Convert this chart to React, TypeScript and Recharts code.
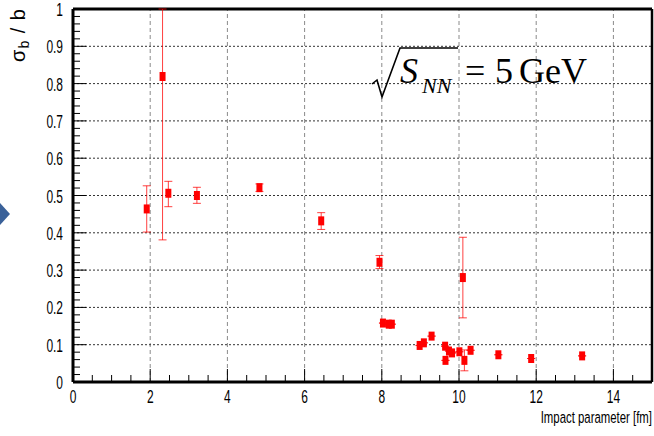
import React from 'react';
import {
  ScatterChart,
  Scatter,
  XAxis,
  YAxis,
  ErrorBar,
  ReferenceLine,
} from 'recharts';

// impact parameter [fm]
const impactB = [
  1.91, 2.32, 2.47, 3.21, 4.83, 6.43, 7.94, 8.03, 8.18, 8.26, 8.98, 9.09,
  9.29, 9.64, 9.65, 9.74, 9.82, 10.01, 10.1, 10.14, 10.3, 11.02, 11.87, 13.19,
];
// sigma_b / b
const ratio = [
  0.464, 0.819, 0.506, 0.5, 0.521, 0.432, 0.321, 0.158, 0.155, 0.155, 0.098,
  0.105, 0.123, 0.096, 0.058, 0.083, 0.078, 0.081, 0.28, 0.058, 0.085, 0.073,
  0.063, 0.07,
];
const errLow = [
  0.062, 0.438, 0.036, 0.021, 0.01, 0.023, 0.017, 0, 0, 0, 0, 0, 0, 0, 0, 0,
  0, 0, 0.108, 0.028, 0, 0, 0, 0,
];
const errHigh = [
  0.062, 0.181, 0.032, 0.022, 0.01, 0.022, 0.018, 0, 0, 0, 0, 0, 0, 0, 0, 0,
  0, 0, 0.108, 0.028, 0, 0, 0, 0,
];

const xGrid = [2, 4, 6, 8, 10, 12, 14];
const yGrid = [0.1, 0.2, 0.3, 0.4, 0.5, 0.6, 0.7, 0.8, 0.9];
const xTicks = Array.from({ length: 31 }, (_, i) => i * 0.5);
const yTicks = Array.from({ length: 51 }, (_, i) => Math.round(i * 2) / 100);

const points = impactB.map((b, i) => ({
  b,
  r: ratio[i],
  err: [errLow[i], errHigh[i]],
}));

const labelFont = '"Liberation Sans", Arial, sans-serif';

const XTick = (props: any) => {
  const { x, y, payload } = props;
  const v = payload.value;
  const major = Math.abs(v / 2 - Math.round(v / 2)) < 1e-6;
  return (
    <g>
      <line x1={x} x2={x} y1={y} y2={y - (major ? 13 : 7)} stroke="#000" strokeWidth={1} />
      {major && v < 15 && (
        <text
          transform={`translate(${x},${y + 21}) scale(0.63,1)`}
          textAnchor="middle"
          fontSize={19}
          fontFamily={labelFont}
          fill="#000"
        >
          {v}
        </text>
      )}
    </g>
  );
};

const YTick = (props: any) => {
  const { x, y, payload } = props;
  const v = payload.value;
  const major = Math.abs(v * 10 - Math.round(v * 10)) < 1e-6;
  const label = v === 0 ? '0' : v === 1 ? '1' : v.toFixed(1);
  return (
    <g>
      <line x1={x} x2={x + (major ? 13 : 7)} y1={y} y2={y} stroke="#000" strokeWidth={1} />
      {major && (
        <text
          transform={`translate(${x - 10},${y + 7}) scale(0.63,1)`}
          textAnchor="end"
          fontSize={19}
          fontFamily={labelFont}
          fill="#000"
        >
          {label}
        </text>
      )}
    </g>
  );
};

const BoxMarker = (props: any) => {
  const { cx, cy } = props;
  return <rect x={cx - 3} y={cy - 4.5} width={6} height={9} fill="#ff0000" />;
};

const App: React.FC = () => {
  return (
    <div style={{ position: 'absolute', left: 0, top: 0, width: 654, height: 436, background: '#fff' }}>
      <ScatterChart
        width={654}
        height={436}
        margin={{ top: 9, right: 2, bottom: 0, left: 0 }}
      >
        {xGrid.map((v) => (
          <ReferenceLine key={'gx' + v} x={v} stroke="#8a8a8a" strokeDasharray="4 3" />
        ))}
        {yGrid.map((v) => (
          <ReferenceLine key={'gy' + v} y={v} stroke="#333" strokeDasharray="2 2" />
        ))}
        <XAxis
          type="number"
          dataKey="b"
          domain={[0, 15]}
          ticks={xTicks}
          interval={0}
          height={54}
          tickSize={0}
          tickMargin={0}
          tickLine={false}
          tick={<XTick />}
          axisLine={{ stroke: '#000', strokeWidth: 3 }}
        />
        <YAxis
          type="number"
          dataKey="r"
          domain={[0, 1]}
          ticks={yTicks}
          interval={0}
          width={73}
          tickSize={0}
          tickMargin={0}
          tickLine={false}
          tick={<YTick />}
          axisLine={{ stroke: '#000', strokeWidth: 3 }}
        />
        <ReferenceLine y={1} stroke="#000" strokeWidth={3} />
        <ReferenceLine x={15} stroke="#000" strokeWidth={2.5} />
        <Scatter data={points} shape={<BoxMarker />} isAnimationActive={false}>
          <ErrorBar
            dataKey="err"
            direction="y"
            width={4}
            stroke="#ff0000"
            strokeOpacity={0.75}
            strokeWidth={1}
            isAnimationActive={false}
          />
        </Scatter>
      </ScatterChart>
      <svg
        width={654}
        height={436}
        style={{ position: 'absolute', left: 0, top: 0, pointerEvents: 'none' }}
      >
        <polygon points="0,203 10,214 0,225" fill="#3a6199" />
        <text
          transform="translate(25,8) rotate(-90)"
          textAnchor="end"
          fontSize={20}
          letterSpacing={1}
          fontFamily={labelFont}
          fill="#000"
        >
          σ<tspan fontSize={14} dy={4}>b</tspan>
          <tspan dy={-4}> / b</tspan>
        </text>
        <text
          transform="translate(652,423) scale(0.67,1)"
          textAnchor="end"
          fontSize={17}
          fontFamily={labelFont}
          fill="#000"
        >
          Impact parameter [fm]
        </text>
        <path
          d="M372,84 L377,80 L382,97 L400,48 L458,48"
          fill="none"
          stroke="#000"
          strokeWidth={1.6}
        />
        <g fontFamily='"Liberation Serif", "Times New Roman", serif' fill="#000">
          <text x={400} y={83} fontSize={36} fontStyle="italic">S</text>
          <text x={422} y={93} fontSize={22} fontStyle="italic">NN</text>
          <text x={465} y={83} fontSize={36}>=</text>
          <text x={495} y={83} fontSize={36}>5</text>
          <text x={519} y={83} fontSize={36}>GeV</text>
        </g>
      </svg>
    </div>
  );
};

export default App;
